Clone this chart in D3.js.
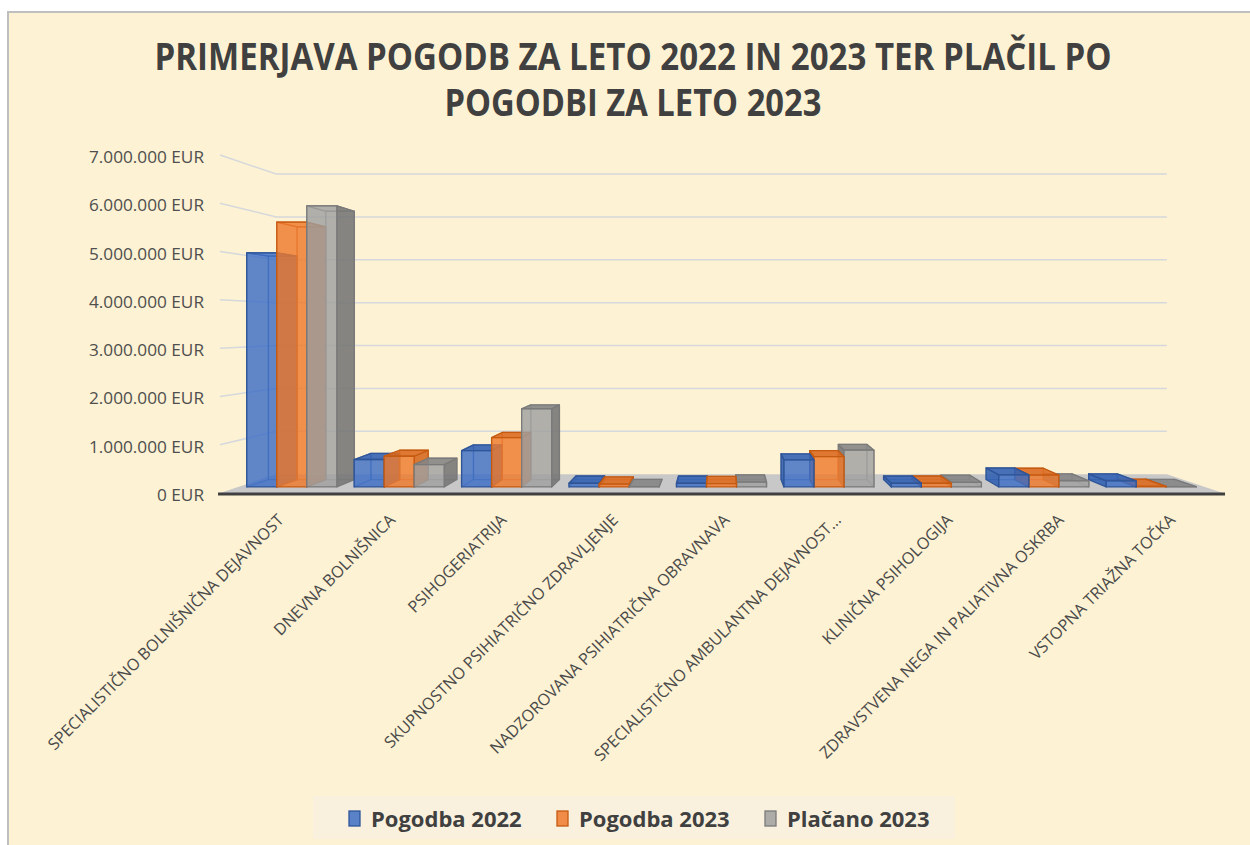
<!DOCTYPE html>
<html><head><meta charset="utf-8">
<script src="https://cdn.jsdelivr.net/npm/d3@7"></script>
<style>body{margin:0;background:#fff}svg{display:block}</style>
</head><body><svg id="c" width="1250" height="845"></svg>
<script>
const titleLines = ["PRIMERJAVA POGODB ZA LETO 2022 IN 2023 TER PLAČIL PO", "POGODBI ZA LETO 2023"];
const categories = [
  "SPECIALISTIČNO BOLNIŠNIČNA DEJAVNOST",
  "DNEVNA BOLNIŠNICA",
  "PSIHOGERIATRIJA",
  "SKUPNOSTNO PSIHIATRIČNO ZDRAVLJENJE",
  "NADZOROVANA PSIHIATRIČNA OBRAVNAVA",
  "SPECIALISTIČNO AMBULANTNA DEJAVNOST...",
  "KLINIČNA PSIHOLOGIJA",
  "ZDRAVSTVENA NEGA IN PALIATIVNA OSKRBA",
  "VSTOPNA TRIAŽNA TOČKA"
];
const seriesNames = ["Pogodba 2022", "Pogodba 2023", "Plačano 2023"];
const pogodba2022 = [5030000, 590000, 780000, 80000, 80000, 580000, 80000, 260000, 130000];
const pogodba2023 = [5690000, 660000, 1060000, 60000, 70000, 650000, 80000, 255000, 12000];
const placano2023 = [6040000, 480000, 1680000, 5000, 105000, 790000, 100000, 130000, 5000];
const yTicks = [0, 1000000, 2000000, 3000000, 4000000, 5000000, 6000000, 7000000];

const seriesValues = [pogodba2022, pogodba2023, placano2023];
const palette = [
  {front:"#3D6EC6", side:"#2E5DB0", top:"#3462B4", stroke:"#2F5597"},
  {front:"#EE7A2D", side:"#D4651C", top:"#DC6A20", stroke:"#C55A11"},
  {front:"#A0A0A0", side:"#747474", top:"#858585", stroke:"#7A7A7A"}
];

const svg = d3.select("#c");
svg.append("rect").attr("x",8).attr("y",12).attr("width",1250).attr("height",845).attr("fill","#FDF2D3").attr("stroke","#BFBFBF").attr("stroke-width",2);

// title
svg.selectAll("text.title").data(titleLines).join("text")
  .attr("x",633).attr("y",(d,i)=>70+i*46)
  .attr("text-anchor","middle")
  .attr("font-family","'Open Sans', sans-serif").attr("font-weight","bold").attr("font-size",37)
  .attr("fill","#404040")
  .attr("textLength",(d,i)=> i===0?957:377).attr("lengthAdjust","spacingAndGlyphs")
  .text(d=>d);

// perspective projection
const VX = 721.5, VY = 325;
const S_BACK = 0.888, S0 = 0.964, S1 = 0.92;
const P = (x,y,s)=>[VX+(x-VX)*s, VY+(y-VY)*s];
const poly = pts => "M"+pts.map(p=>p[0].toFixed(2)+","+p[1].toFixed(2)).join("L")+"Z";

const x0 = d3.scaleBand().domain(categories).range([220,1223]).paddingInner(0.1616).paddingOuter(0.0808);
const x1 = d3.scaleBand().domain(seriesNames).range([0,x0.bandwidth()]);
const y = d3.scaleLinear().domain([0,7000000]).range([493,155]);
const xL = x0.range()[0], xR = x0.range()[1];

// gridlines
const grid = svg.append("g").attr("stroke","#D5D8DC").attr("stroke-width",1.5).attr("fill","none");
yTicks.filter(t=>t>0).forEach(t=>{
  const a = P(xL,y(t),1), b = P(xL,y(t),S_BACK), c = P(xR,y(t),S_BACK);
  grid.append("path").attr("d",`M${a[0]},${a[1]}L${b[0]},${b[1]}L${c[0]},${c[1]}`);
});

// floor
svg.append("path").attr("d",poly([P(xL,y(0),1),P(xR,y(0),1),P(xR,y(0),S_BACK),P(xL,y(0),S_BACK)]))
  .attr("fill","#C8C8C8");

// bars
const bars = [];
categories.forEach((c,ci)=>{
  seriesNames.forEach((s,si)=>{
    const l = x0(c)+x1(s), r = l + x1.bandwidth();
    bars.push({ci,si,l,r,v:seriesValues[si][ci]});
  });
});
bars.sort((a,b)=>Math.abs((b.l+b.r)/2-VX)-Math.abs((a.l+a.r)/2-VX));
const gb = svg.append("g");
bars.forEach(b=>{
  const col = palette[b.si];
  const yt = y(b.v), yb = y(0);
  const g = gb.append("g").attr("stroke",col.stroke).attr("stroke-width",1.3).attr("stroke-linejoin","round");
  const back = [P(b.l,yt,S1),P(b.r,yt,S1),P(b.r,yb,S1),P(b.l,yb,S1)];
  const left = [P(b.l,yt,S0),P(b.l,yt,S1),P(b.l,yb,S1),P(b.l,yb,S0)];
  const right = [P(b.r,yt,S0),P(b.r,yt,S1),P(b.r,yb,S1),P(b.r,yb,S0)];
  const top = [P(b.l,yt,S0),P(b.r,yt,S0),P(b.r,yt,S1),P(b.l,yt,S1)];
  const front = [P(b.l,yt,S0),P(b.r,yt,S0),P(b.r,yb,S0),P(b.l,yb,S0)];
  g.append("path").attr("d",poly(back)).attr("fill","none").attr("stroke-opacity",0.55);
  const rightVisible = b.r < VX, leftVisible = b.l > VX;
  if(!rightVisible) g.append("path").attr("d",poly(right)).attr("fill","none").attr("stroke-opacity",0.55);
  if(!leftVisible) g.append("path").attr("d",poly(left)).attr("fill","none").attr("stroke-opacity",0.55);
  if(rightVisible) g.append("path").attr("d",poly(right)).attr("fill",col.side).attr("fill-opacity",0.88);
  if(leftVisible) g.append("path").attr("d",poly(left)).attr("fill",col.side).attr("fill-opacity",0.88);
  const topVisible = P(b.l,yt,S0)[1] > VY;
  g.append("path").attr("d",poly(top)).attr("fill",topVisible?col.top:"none").attr("fill-opacity",0.9);
  g.append("path").attr("d",poly(front)).attr("fill",col.front).attr("fill-opacity",0.82);
});

// front edge
svg.append("line").attr("x1",xL-2).attr("x2",xR+2).attr("y1",y(0)+1).attr("y2",y(0)+1)
  .attr("stroke","#404040").attr("stroke-width",2.8);

// y axis labels
const loc = d3.formatLocale({decimal:",",thousands:".",grouping:[3],currency:[""," EUR"]});
const fmt = loc.format("$,");
svg.append("g").selectAll("text").data(yTicks).join("text")
  .attr("x",204).attr("y",d=>y(d)+8).attr("text-anchor","end")
  .attr("font-family","'Open Sans', sans-serif").attr("font-size",17.2).attr("fill","#4F4F4F")
  .text(d=>fmt(d));

// category labels
svg.append("g").selectAll("text").data(categories).join("text")
  .attr("transform",d=>`translate(${x0(d)+x0.bandwidth()/2+9},521) rotate(-45)`)
  .attr("text-anchor","end")
  .attr("font-family","'Open Sans', sans-serif").attr("font-size",16.2).attr("fill","#4A4A4A")
  .text(d=>d);

// legend
svg.append("rect").attr("x",313).attr("y",796).attr("width",642).attr("height",43).attr("fill","#F9F1DE");
const legX = [349,557,765];
const lg = svg.append("g").selectAll("g").data(seriesNames).join("g")
  .attr("transform",(d,i)=>`translate(${legX[i]},811)`);
lg.append("rect").attr("width",11).attr("height",15)
  .attr("fill",(d,i)=>palette[i].front).attr("fill-opacity",0.85)
  .attr("stroke",(d,i)=>palette[i].stroke).attr("stroke-width",1.3);
lg.append("text").attr("x",22).attr("y",15.5)
  .attr("font-family","'Open Sans', sans-serif").attr("font-weight","bold").attr("font-size",22)
  .attr("fill","#404040").text(d=>d);
</script></body></html>
